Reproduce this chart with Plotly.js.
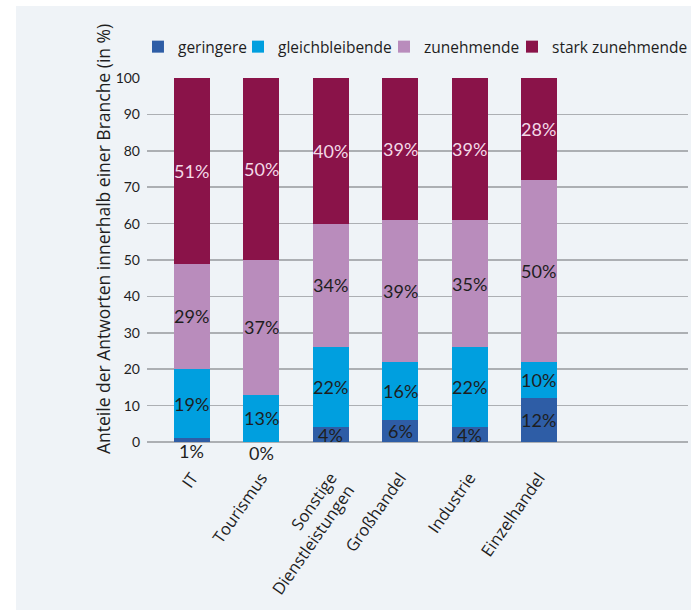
<!DOCTYPE html>
<html>
<head>
<meta charset="utf-8">
<script src="https://cdn.plot.ly/plotly-3.0.1.min.js"></script>
<style>
  html, body { margin: 0; padding: 0; background: #ffffff; }
  #panel { position: absolute; left: 16px; top: 6px; width: 675px; height: 604px; }
</style>
</head>
<body>
<div id="panel"></div>
<script>
const categories = ['IT', 'Tourismus', 'Sonstige<br>Dienstleistungen', 'Großhandel', 'Industrie', 'Einzelhandel'];
const seriesNames = ['geringere', 'gleichbleibende', 'zunehmende', 'stark zunehmende'];
const geringere = [1, 0, 4, 6, 4, 12];
const gleichbleibende = [19, 13, 22, 16, 22, 10];
const zunehmende = [29, 37, 34, 39, 35, 50];
const starkZunehmende = [51, 50, 40, 39, 39, 28];
const yTicks = [0, 10, 20, 30, 40, 50, 60, 70, 80, 90, 100];

const seriesValues = [geringere, gleichbleibende, zunehmende, starkZunehmende];
const colors = ['#2e5da6', '#009fdf', '#b98cbc', '#8a1349'];
const labelColors = ['#1e1e1e', '#1e1e1e', '#1e1e1e', '#f3d9e7'];
const legendIds = ['legend', 'legend2', 'legend3', 'legend4'];
const legendX = [0.1807, 0.3289, 0.5452, 0.7348];

const NUMFONT = 'Lato, "Open Sans", sans-serif';
const TXTFONT = '"Open Sans", Lato, sans-serif';

const traces = seriesValues.map((vals, i) => ({
  type: 'bar',
  name: seriesNames[i],
  x: categories,
  y: vals,
  marker: { color: colors[i], line: { width: 0 } },
  width: 0.52,
  legend: legendIds[i],
  hoverinfo: 'skip'
}));

const annotations = [];
const base = categories.map(() => 0);
seriesValues.forEach((vals, i) => {
  vals.forEach((v, j) => {
    const mid = base[j] + v / 2;
    annotations.push({
      x: categories[j], y: mid, xref: 'x', yref: 'y',
      text: v + '%', showarrow: false,
      yshift: v < 2 ? -11 : 0,
      font: { family: NUMFONT, size: 18, color: labelColors[i] }
    });
    base[j] += v;
  });
});

annotations.push({
  xref: 'paper', yref: 'paper', x: -0.081, y: 0.558,
  xanchor: 'center', yanchor: 'middle', textangle: -90,
  text: 'Anteile der Antworten innerhalb einer Branche (in %)',
  showarrow: false,
  font: { family: TXTFONT, size: 17.5, color: '#1e1e1e' }
});

const layout = {
  width: 675, height: 604,
  paper_bgcolor: '#eff3f7',
  plot_bgcolor: '#eff3f7',
  margin: { l: 131, r: 3, t: 72, b: 168 },
  barmode: 'stack',
  font: { family: TXTFONT, color: '#1e1e1e' },
  showlegend: true,
  xaxis: {
    type: 'category',
    range: [-0.648, 7.147],
    tickangle: -55,
    ticks: '',
    ticklabelstandoff: 22,
    tickfont: { family: TXTFONT, size: 16.5, color: '#1e1e1e' },
    showgrid: false,
    zeroline: false,
    showline: false
  },
  yaxis: {
    range: [0, 100],
    tickvals: yTicks,
    ticktext: yTicks.map(String),
    ticks: '',
    ticklabelstandoff: 6,
    tickfont: { family: NUMFONT, size: 14, color: '#1e1e1e' },
    showgrid: true,
    gridcolor: '#acafb3',
    gridwidth: 1.5,
    zeroline: true,
    zerolinecolor: '#acafb3',
    zerolinewidth: 1.5,
    showline: false
  },
  annotations: annotations
};

legendIds.forEach((id, i) => {
  layout[id] = {
    xref: 'container', yref: 'container',
    x: legendX[i], y: 0.932,
    xanchor: 'left', yanchor: 'middle',
    orientation: 'h',
    bgcolor: 'rgba(0,0,0,0)',
    borderwidth: 0,
    itemwidth: 30,
    font: { family: TXTFONT, size: 15.5, color: '#1e1e1e' }
  };
});

Plotly.newPlot('panel', traces, layout, { displayModeBar: false, staticPlot: true });
</script>
</body>
</html>
